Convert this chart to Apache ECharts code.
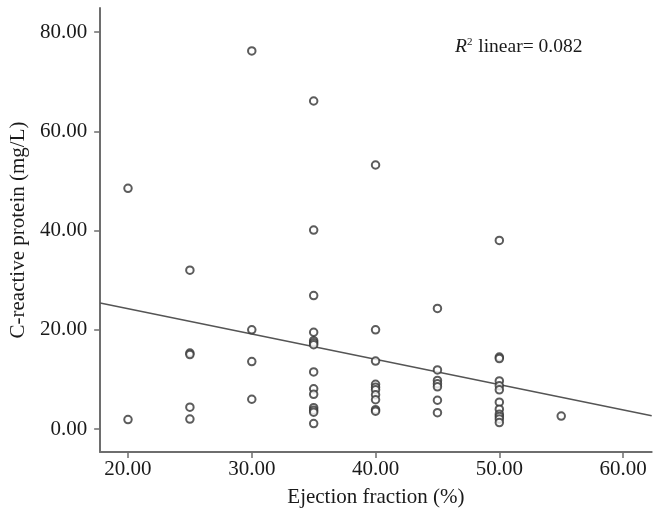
<!DOCTYPE html>
<html>
<head>
<meta charset="utf-8">
<script src="https://cdn.jsdelivr.net/npm/echarts@6/dist/echarts.min.js"></script>
<style>
html,body{margin:0;padding:0;background:#fff;}
#chart{width:653px;height:513px;}
</style>
</head>
<body>
<div id="chart"></div>
<script>
// Data
var ejectionFraction = [
  20, 20,
  25, 25, 25, 25, 25,
  30, 30, 30, 30,
  35, 35, 35, 35, 35, 35, 35, 35, 35, 35, 35, 35, 35, 35,
  40, 40, 40, 40, 40, 40, 40, 40, 40, 40,
  45, 45, 45, 45, 45, 45, 45,
  50, 50, 50, 50, 50, 50, 50, 50, 50, 50, 50, 50,
  55
];
var crp = [
  48.5, 1.9,
  32.0, 15.3, 15.0, 4.4, 2.0,
  76.2, 20.0, 13.6, 6.0,
  66.1, 40.1, 26.9, 19.5, 17.8, 17.4, 17.0, 11.5, 8.1, 7.0, 4.3, 3.8, 3.4, 1.1,
  53.2, 20.0, 13.7, 9.0, 8.4, 7.9, 6.9, 5.9, 3.9, 3.6,
  24.3, 11.9, 9.8, 9.1, 8.5, 5.8, 3.3,
  38.0, 14.5, 14.2, 9.7, 8.7, 7.9, 5.4, 4.0, 3.0, 2.5, 2.0, 1.3,
  2.6
];
var xTicks = [20, 30, 40, 50, 60];
var yTicks = [0, 20, 40, 60, 80];
var fitIntercept = 34.45;
var fitSlope = -0.51;
var r2Text = '0.082';

var xMin = 17.75, xMax = 62.31;
var yMin = -4.63, yMax = 84.84;

var points = ejectionFraction.map(function (x, i) { return [x, crp[i]]; });
var fitLine = [xMin, xMax].map(function (x) { return [x, fitIntercept + fitSlope * x]; });

var serif = '"Liberation Serif", "DejaVu Serif", serif';
var chart = echarts.init(document.getElementById('chart'));
chart.setOption({
  backgroundColor: '#fff',
  animation: false,
  grid: { left: 97.7, right: 1.3, top: 8, bottom: 61 },
  xAxis: {
    type: 'value', min: xMin, max: xMax,
    name: 'Ejection fraction (%)', nameLocation: 'middle', nameGap: 35,
    nameTextStyle: { fontFamily: serif, fontSize: 21, color: '#1a1a1a' },
    splitLine: { show: false },
    axisLine: { onZero: false, lineStyle: { color: '#6e6e6e', width: 2 } },
    axisTick: { customValues: xTicks, length: 6, lineStyle: { color: '#6e6e6e', width: 1.5 } },
    axisLabel: { customValues: xTicks, margin: 7, fontFamily: serif, fontSize: 21, color: '#1a1a1a',
      formatter: function (v) { return v.toFixed(2); } }
  },
  yAxis: {
    type: 'value', min: yMin, max: yMax,
    name: 'C-reactive protein (mg/L)', nameLocation: 'middle', nameGap: 67, nameRotate: 90,
    nameTextStyle: { fontFamily: serif, fontSize: 21, color: '#1a1a1a' },
    splitLine: { show: false },
    axisLine: { onZero: false, lineStyle: { color: '#6e6e6e', width: 2 } },
    axisTick: { customValues: yTicks, length: 6, lineStyle: { color: '#6e6e6e', width: 1.5 } },
    axisLabel: { customValues: yTicks, margin: 13, fontFamily: serif, fontSize: 21, color: '#1a1a1a',
      formatter: function (v) { return v.toFixed(2); } }
  },
  graphic: [{
    type: 'text', left: 455, top: 37,
    style: {
      text: '{i|R}{s|2} linear= ' + r2Text,
      fontFamily: serif, fontSize: 19.5, fill: '#1a1a1a',
      rich: {
        i: { fontFamily: serif, fontSize: 19.5, fontStyle: 'italic', fill: '#1a1a1a' },
        s: { fontFamily: serif, fontSize: 11, fill: '#1a1a1a', verticalAlign: 'top', padding: [0, 1, 9, 0] }
      }
    }
  }],
  series: [
    {
      type: 'line', data: fitLine, symbol: 'none', silent: true,
      lineStyle: { color: '#555', width: 1.5 }, z: 1
    },
    {
      type: 'scatter', data: points, symbol: 'emptyCircle', symbolSize: 7.5,
      itemStyle: { color: '#333', borderColor: '#333', borderWidth: 1.6 }, z: 2
    }
  ]
});
</script>
</body>
</html>
